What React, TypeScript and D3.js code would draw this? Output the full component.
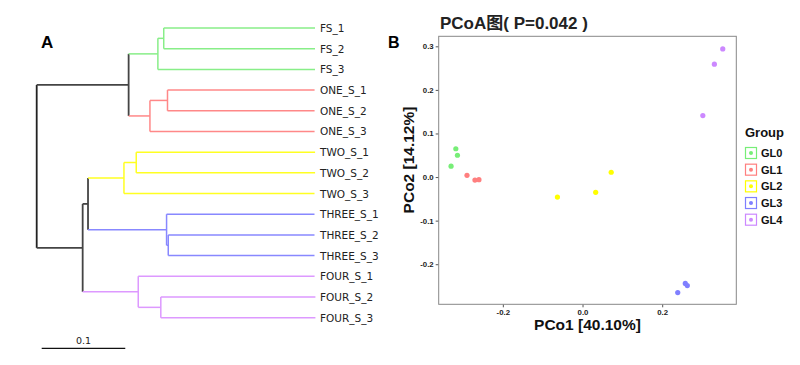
import React, { useEffect, useRef } from "react";
import * as d3 from "d3";

// ---- tree data (panel A) ----
const newick =
  "((((FS_1:0.181,FS_2:0.181):0.007,FS_3:0.188):0.035,((ONE_S_1:0.176,ONE_S_2:0.176):0.021,ONE_S_3:0.197):0.0255):0.110," +
  "((((TWO_S_1:0.214,TWO_S_2:0.214):0.0147,TWO_S_3:0.228):0.043,(THREE_S_1:0.177,(THREE_S_2:0.175,THREE_S_3:0.175):0.002):0.094):0.0064," +
  "(FOUR_S_1:0.211,(FOUR_S_2:0.185,FOUR_S_3:0.185):0.027):0.0665):0.055)";
const cladePrefixes = ["FS_", "ONE_", "TWO_", "THREE_", "FOUR_"];
const cladeColors = ["#88ee88", "#ff8888", "#ffff22", "#8888ff", "#dd99ff"];

// ---- PCoA data (panel B) ----
const groups = ["GL0", "GL1", "GL2", "GL3", "GL4"];
const groupColors = ["#77ee77", "#ff7f7f", "#ffff00", "#7f7fff", "#cc88ff"];
const pco1 = [-0.318, -0.314, -0.33, -0.29, -0.27, -0.26, 0.072, -0.063, 0.033, 0.239, 0.258, 0.263, 0.352, 0.331, 0.302];
const pco2 = [0.065, 0.05, 0.025, 0.004, -0.007, -0.006, 0.011, -0.046, -0.035, -0.265, -0.244, -0.249, 0.294, 0.259, 0.141];
const pointGroup = [0, 0, 0, 1, 1, 1, 2, 2, 2, 3, 3, 3, 4, 4, 4];
const xTicks = [-0.2, 0.0, 0.2];
const yTicks = [-0.2, -0.1, 0.0, 0.1, 0.2, 0.3];

type TNode = { name?: string; length: number; children?: TNode[] };

// tiny newick parser
function parseNewick(s: string): TNode {
  let i = 0;
  function node(): TNode {
    const n: TNode = { length: 0 };
    if (s[i] === "(") {
      n.children = [];
      i++;
      n.children.push(node());
      while (s[i] === ",") {
        i++;
        n.children.push(node());
      }
      i++; // ')'
    }
    let name = "";
    while (i < s.length && !",():".includes(s[i])) name += s[i++];
    if (name) n.name = name;
    if (s[i] === ":") {
      i++;
      let num = "";
      while (i < s.length && !",()".includes(s[i])) num += s[i++];
      n.length = +num;
    }
    return n;
  }
  return node();
}

export default function App() {
  const ref = useRef<SVGSVGElement>(null);

  useEffect(() => {
    document.body.style.margin = "0";
    const svg = d3.select(ref.current);
    svg.selectAll("*").remove();

    // ================= Panel A: tree =================
    const root = d3.hierarchy(parseNewick(newick));
    root.eachBefore((d: any) => {
      d.dist = d.parent ? d.parent.dist + d.data.length : 0;
    });
    const leaves = root.leaves();
    const leafNames = leaves.map(d => d.data.name as string);

    const xt = d3.scaleLinear().domain([0, 0.333]).range([36.7, 315]);
    const yt = d3.scalePoint<string>().domain(leafNames).range([28, 317.7]);

    root.eachAfter((d: any) => {
      if (!d.children) d.yy = yt(d.data.name);
      else d.yy = (d.children[0].yy + d.children[d.children.length - 1].yy) / 2;
      const idx = new Set(d.leaves().map((l: any) => cladePrefixes.findIndex(p => l.data.name.startsWith(p))));
      d.color = idx.size === 1 ? cladeColors[[...idx][0] as number] : d.parent ? "#444" : "#222";
    });

    const gt = svg.append("g").attr("fill", "none");
    root.each((d: any) => {
      const w = d.color === "#222" || d.color === "#444" ? 1.8 : 1.5;
      if (d.parent) {
        gt.append("line")
          .attr("x1", xt(d.parent.dist)).attr("x2", xt(d.dist))
          .attr("y1", d.yy).attr("y2", d.yy)
          .attr("stroke", d.color).attr("stroke-width", w);
      }
      if (d.children) {
        gt.append("line")
          .attr("x1", xt(d.dist)).attr("x2", xt(d.dist))
          .attr("y1", d.children[0].yy).attr("y2", d.children[d.children.length - 1].yy)
          .attr("stroke", d.color).attr("stroke-width", w);
      }
    });

    svg.append("g").selectAll("text").data(leaves).enter().append("text")
      .attr("x", 320)
      .attr("y", (d: any) => d.yy + 4)
      .attr("font-family", "DejaVu Sans, sans-serif")
      .attr("font-size", 10.5)
      .attr("fill", "#222")
      .text(d => d.data.name as string);

    // scale bar
    const barLen = xt(0.1) - xt(0);
    svg.append("line")
      .attr("x1", 41.7).attr("x2", 41.7 + barLen)
      .attr("y1", 348.3).attr("y2", 348.3)
      .attr("stroke", "#111").attr("stroke-width", 1.3);
    svg.append("text")
      .attr("x", 41.7 + barLen / 2).attr("y", 344)
      .attr("text-anchor", "middle")
      .attr("font-family", "DejaVu Sans, sans-serif")
      .attr("font-size", 9.5).attr("fill", "#222")
      .text("0.1");

    svg.append("text")
      .attr("x", 41).attr("y", 48)
      .attr("font-family", "Liberation Sans, Arial, sans-serif")
      .attr("font-weight", "bold").attr("font-size", 17)
      .text("A");

    // ================= Panel B: PCoA =================
    const left = 438.7, right = 736.3, top = 36.3, bottom = 304.3;
    const x = d3.scaleLinear().domain([-0.361, 0.386]).range([left, right]);
    const y = d3.scaleLinear().domain([-0.292, 0.323]).range([bottom, top]);
    const fmt = (v: d3.NumberValue) => d3.format(".1f")(v).replace("−", "-");

    const axFont = (sel: any) =>
      sel.selectAll("text")
        .attr("font-family", "Liberation Sans, Arial, sans-serif")
        .attr("font-weight", "bold")
        .attr("font-size", 7.8)
        .attr("fill", "#222");

    const gx = svg.append("g")
      .attr("transform", `translate(0,${bottom})`)
      .call(d3.axisBottom(x).tickValues(xTicks).tickFormat(fmt).tickSize(3).tickPadding(2));
    gx.select(".domain").remove();
    gx.selectAll("line").attr("stroke", "#555");
    axFont(gx);

    const gy = svg.append("g")
      .attr("transform", `translate(${left},0)`)
      .call(d3.axisLeft(y).tickValues(yTicks).tickFormat(fmt).tickSize(3).tickPadding(2));
    gy.select(".domain").remove();
    gy.selectAll("line").attr("stroke", "#555");
    axFont(gy);

    svg.append("rect")
      .attr("x", left).attr("y", top)
      .attr("width", right - left).attr("height", bottom - top)
      .attr("fill", "none").attr("stroke", "#888").attr("stroke-width", 1);

    svg.append("g").selectAll("circle").data(pco1).enter().append("circle")
      .attr("cx", d => x(d))
      .attr("cy", (_, i) => y(pco2[i]))
      .attr("r", 2.6)
      .attr("fill", (_, i) => groupColors[pointGroup[i]]);

    svg.append("text")
      .attr("x", 440).attr("y", 29)
      .attr("font-family", "Liberation Sans, Arial, Noto Sans CJK SC, sans-serif")
      .attr("font-weight", "bold").attr("font-size", 17).attr("fill", "#222")
      .text("PCoA图( P=0.042 )");

    svg.append("text")
      .attr("x", 388).attr("y", 47.7)
      .attr("font-family", "Liberation Sans, Arial, sans-serif")
      .attr("font-weight", "bold").attr("font-size", 16)
      .text("B");

    svg.append("text")
      .attr("x", (left + right) / 2).attr("y", 330)
      .attr("text-anchor", "middle")
      .attr("font-family", "Liberation Sans, Arial, sans-serif")
      .attr("font-weight", "bold").attr("font-size", 15.5).attr("fill", "#111")
      .text("PCo1 [40.10%]");

    svg.append("text")
      .attr("transform", `translate(414,160) rotate(-90)`)
      .attr("text-anchor", "middle")
      .attr("font-family", "Liberation Sans, Arial, sans-serif")
      .attr("font-weight", "bold").attr("font-size", 15.5).attr("fill", "#111")
      .text("PCo2 [14.12%]");

    // legend
    const lg = svg.append("g");
    lg.append("text")
      .attr("x", 745).attr("y", 137)
      .attr("font-family", "Liberation Sans, Arial, sans-serif")
      .attr("font-weight", "bold").attr("font-size", 13).attr("fill", "#111")
      .text("Group");
    const ly = d3.scalePoint<string>().domain(groups).range([153, 219.7]);
    const item = lg.selectAll("g.item").data(groups).enter().append("g")
      .attr("transform", d => `translate(745,${ly(d)})`);
    item.append("rect")
      .attr("x", 0.5).attr("y", -5.5).attr("width", 11).attr("height", 11)
      .attr("fill", "#fff")
      .attr("stroke", (_, i) => groupColors[i]).attr("stroke-width", 1.2);
    item.append("circle")
      .attr("cx", 6).attr("cy", 0).attr("r", 2)
      .attr("fill", (_, i) => groupColors[i]);
    item.append("text")
      .attr("x", 16).attr("y", 4)
      .attr("font-family", "Liberation Sans, Arial, sans-serif")
      .attr("font-weight", "bold").attr("font-size", 11).attr("fill", "#111")
      .text(d => d);
  }, []);

  return <svg ref={ref} width={800} height={365} style={{ display: "block" }}></svg>;
}
